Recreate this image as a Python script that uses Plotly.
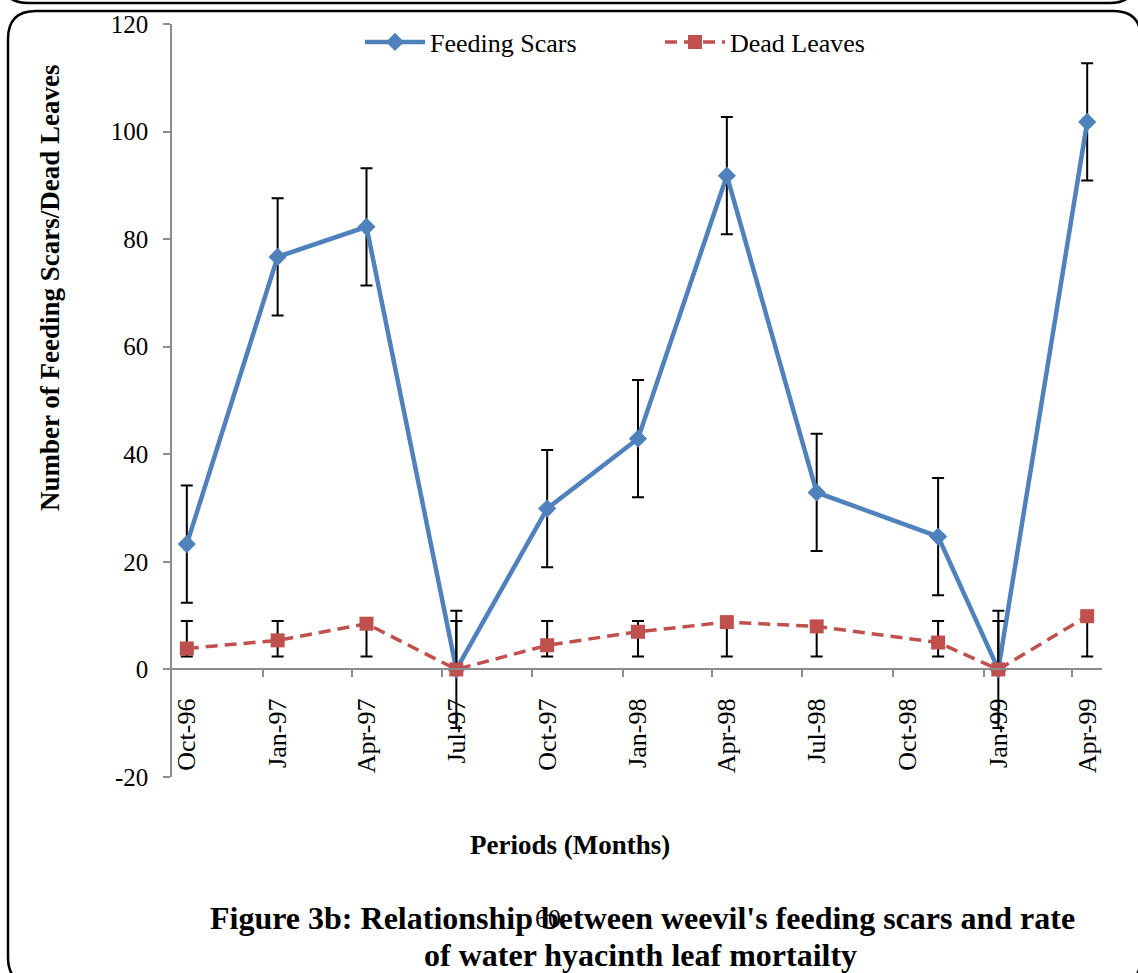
import plotly.graph_objects as go

# ---- data ----
dates = ["1996-10-16", "1997-01-16", "1997-04-16", "1997-07-16", "1997-10-16",
         "1998-01-16", "1998-04-16", "1998-07-16", "1998-11-16", "1999-01-16", "1999-04-16"]
feeding_scars = [23.3, 76.7, 82.3, 0.0, 29.9, 42.9, 91.8, 32.9, 24.7, 0.0, 101.8]
feeding_err = [10.9, 10.9, 10.9, 10.9, 10.9, 10.9, 10.9, 10.9, 10.9, 10.9, 10.9]
dead_leaves = [3.9, 5.4, 8.5, 0.0, 4.5, 7.0, 8.8, 8.0, 5.0, 0.0, 9.9]
dead_err_plus = [5.1, 3.6, 0.5, 9.0, 4.5, 2.0, 0.2, 1.0, 4.0, 9.0, 0.0]
dead_err_minus = [1.5, 3.0, 6.1, 0.0, 2.1, 4.6, 6.4, 5.6, 2.6, 0.0, 7.5]

tick_dates = ["1996-10-16", "1997-01-16", "1997-04-16", "1997-07-16", "1997-10-16",
              "1998-01-16", "1998-04-16", "1998-07-16", "1998-10-16", "1999-01-16", "1999-04-16"]
tick_labels = ["Oct-96", "Jan-97", "Apr-97", "Jul-97", "Oct-97", "Jan-98",
               "Apr-98", "Jul-98", "Oct-98", "Jan-99", "Apr-99"]
minor_ticks = ["1997-01-01", "1997-04-01", "1997-07-01", "1997-10-01", "1998-01-01",
               "1998-04-01", "1998-07-01", "1998-10-01", "1999-01-01", "1999-04-01"]
x_range = ["1996-10-01", "1999-05-01"]
y_tickvals = [-20, 0, 20, 40, 60, 80, 100, 120]
y_ticktext = ["-20", "0", "20", "40", "60", "80", "100", "120"]
y_min, y_max = -20, 120

FONT = "Liberation Serif, Times New Roman, serif"
BLUE = "#4F81BD"
RED = "#C0504D"

fig = go.Figure()
fig.add_trace(go.Scatter(
    x=dates, y=feeding_scars, name="Feeding Scars", mode="lines+markers",
    line=dict(color=BLUE, width=4.5),
    marker=dict(symbol="diamond", size=14, color=BLUE),
    error_y=dict(type="data", array=feeding_err, visible=True,
                 color="black", thickness=2, width=6),
))
fig.add_trace(go.Scatter(
    x=dates, y=dead_leaves, name="Dead Leaves", mode="lines+markers",
    line=dict(color=RED, width=3.5, dash="12px,7px"),
    marker=dict(symbol="square", size=14, color=RED),
    error_y=dict(type="data", symmetric=False, array=dead_err_plus,
                 arrayminus=dead_err_minus, visible=True,
                 color="black", thickness=2, width=6),
))

W, H = 1138, 973
L, R, T, B = 172, 36, 24, 196
PW, PH = W - L - R, H - T - B


def px(X):
    return (X - L) / PW


def py(Y):
    return (H - B - Y) / PH


def frame_path(x0, y0, x1, y1, r):
    return (f"M {px(x0)},{py(y1 - r)} L {px(x0)},{py(y0 + r)} "
            f"Q {px(x0)},{py(y0)} {px(x0 + r)},{py(y0)} "
            f"L {px(x1 - r)},{py(y0)} Q {px(x1)},{py(y0)} {px(x1)},{py(y0 + r)} "
            f"L {px(x1)},{py(y1 - r)} Q {px(x1)},{py(y1)} {px(x1 - r)},{py(y1)} "
            f"L {px(x0 + r)},{py(y1)} Q {px(x0)},{py(y1)} {px(x0)},{py(y1 - r)} Z")


prev_bottom = (f"M {px(1)},{py(-25)} Q {px(1)},{py(3)} {px(28)},{py(3)} "
               f"L {px(1110)},{py(3)} Q {px(1137)},{py(3)} {px(1137)},{py(-25)}")

fig.update_layout(
    width=W, height=H,
    margin=dict(l=L, r=R, t=T, b=B),
    paper_bgcolor="white", plot_bgcolor="white",
    font=dict(family=FONT, color="black", size=25),
    showlegend=True,
    legend=dict(orientation="h", x=px(360), xanchor="left", y=py(42), yanchor="middle",
                font=dict(family=FONT, size=26, color="black"),
                bgcolor="rgba(0,0,0,0)", itemwidth=60, entrywidth=225,
                tracegroupgap=0),
    xaxis=dict(
        type="date", range=x_range,
        anchor="free", position=(0 - y_min) / (y_max - y_min),
        showline=True, linecolor="#8C8C8C", linewidth=1.5,
        showgrid=False, zeroline=False,
        tickmode="array", tickvals=tick_dates, ticktext=tick_labels,
        ticks="", tickangle=-90, ticklabelstandoff=18,
        tickfont=dict(family=FONT, size=26, color="black"),
        minor=dict(tickmode="array", tickvals=minor_ticks, ticks="outside",
                   ticklen=7, tickcolor="#8C8C8C", tickwidth=1.5, showgrid=False),
    ),
    yaxis=dict(
        range=[y_min, y_max], tickmode="array", tickvals=y_tickvals, ticktext=y_ticktext,
        showline=True, linecolor="#8C8C8C", linewidth=1.5,
        showgrid=False, zeroline=False,
        ticks="outside", ticklen=7, tickcolor="#8C8C8C", tickwidth=1.5,
        ticklabelstandoff=10,
        tickfont=dict(family=FONT, size=25, color="black"),
    ),
    shapes=[
        dict(type="path", xref="paper", yref="paper", path=frame_path(8, 11, 1141, 985, 28),
             line=dict(color="black", width=2.5), fillcolor="rgba(0,0,0,0)", layer="below"),
        dict(type="path", xref="paper", yref="paper", path=prev_bottom,
             line=dict(color="black", width=2.5), layer="below"),
    ],
    annotations=[
        dict(text="<b>Number of Feeding Scars/Dead Leaves</b>", textangle=-90,
             xref="paper", yref="paper", x=px(50), y=py(288), xanchor="center", yanchor="middle",
             showarrow=False, font=dict(family=FONT, size=27, color="black")),
        dict(text="<b>Periods (Months)</b>",
             xref="paper", yref="paper", x=px(570), y=py(845), xanchor="center", yanchor="middle",
             showarrow=False, font=dict(family=FONT, size=27, color="black")),
        dict(text="<b>Figure 3b: Relationship between weevil's feeding scars and rate</b>",
             xref="paper", yref="paper", x=px(642), y=py(918), xanchor="center", yanchor="middle",
             showarrow=False, font=dict(family=FONT, size=32, color="black")),
        dict(text="<b>of water hyacinth leaf mortailty</b>",
             xref="paper", yref="paper", x=px(640), y=py(955), xanchor="center", yanchor="middle",
             showarrow=False, font=dict(family=FONT, size=32, color="black")),
        dict(text="60", xref="paper", yref="paper", x=px(548), y=py(918),
             xanchor="center", yanchor="middle", showarrow=False,
             font=dict(family=FONT, size=26, color="black")),
    ],
)

fig.write_html("out.html", config={"displayModeBar": False},
               post_script="document.body.style.margin='0';")
